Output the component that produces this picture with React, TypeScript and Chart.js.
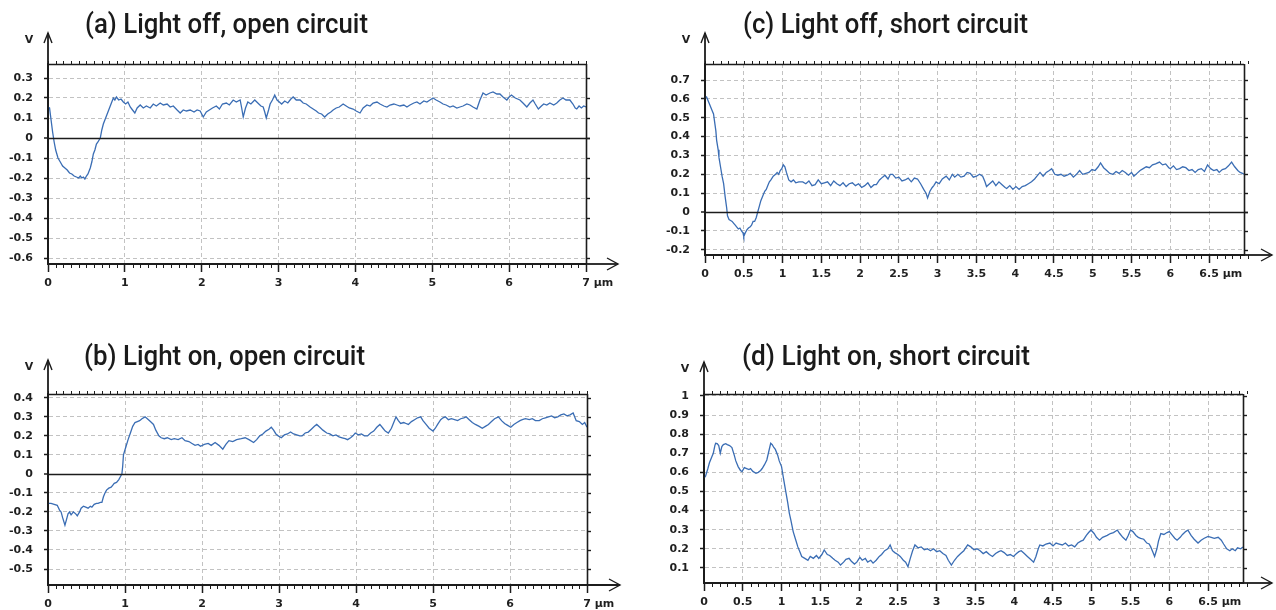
import React, { useEffect, useRef } from 'react';
import { Chart, registerables } from 'chart.js';

Chart.register(...registerables);

// ---------- Data ----------
// (a) Light off, open circuit
const aX = [0.00,0.02,0.04,0.06,0.08,0.10,0.13,0.16,0.19,0.22,0.25,0.28,0.31,0.34,0.37,0.40,0.42,0.44,0.46,0.48,0.50,0.52,0.55,0.57,0.59,0.61,0.63,0.65,0.68,0.70,0.72,0.74,0.76,0.79,0.82,0.85,0.87,0.89,0.92,0.95,0.98,1.01,1.04,1.07,1.10,1.13,1.16,1.20,1.24,1.28,1.33,1.37,1.41,1.46,1.50,1.55,1.59,1.63,1.68,1.72,1.76,1.80,1.85,1.90,1.94,1.98,2.02,2.06,2.10,2.14,2.19,2.23,2.27,2.32,2.36,2.41,2.45,2.50,2.52,2.54,2.57,2.60,2.64,2.69,2.73,2.77,2.80,2.82,2.84,2.87,2.89,2.92,2.95,2.98,3.01,3.04,3.08,3.12,3.16,3.19,3.23,3.28,3.32,3.36,3.41,3.45,3.49,3.52,3.56,3.60,3.64,3.68,3.71,3.75,3.79,3.84,3.88,3.92,3.97,4.01,4.06,4.10,4.15,4.19,4.23,4.28,4.32,4.37,4.41,4.45,4.50,4.54,4.58,4.63,4.67,4.71,4.76,4.80,4.84,4.89,4.93,4.97,5.01,5.05,5.10,5.14,5.18,5.23,5.27,5.32,5.36,5.40,5.45,5.49,5.53,5.58,5.62,5.66,5.70,5.75,5.79,5.84,5.88,5.92,5.97,6.00,6.03,6.08,6.14,6.18,6.23,6.27,6.31,6.34,6.38,6.42,6.45,6.49,6.53,6.58,6.62,6.66,6.70,6.74,6.79,6.83,6.86,6.88,6.91,6.94,6.97,7.00];
const aY = [0.155,0.15,0.09,0.03,-0.02,-0.06,-0.10,-0.12,-0.14,-0.15,-0.16,-0.175,-0.18,-0.19,-0.195,-0.20,-0.19,-0.20,-0.195,-0.205,-0.19,-0.18,-0.15,-0.12,-0.08,-0.06,-0.03,-0.02,0.0,0.04,0.07,0.09,0.11,0.14,0.17,0.20,0.19,0.205,0.19,0.195,0.18,0.17,0.18,0.155,0.14,0.125,0.15,0.165,0.15,0.16,0.15,0.17,0.16,0.175,0.165,0.17,0.155,0.16,0.14,0.125,0.14,0.135,0.14,0.13,0.14,0.135,0.105,0.13,0.14,0.15,0.16,0.145,0.17,0.175,0.165,0.19,0.18,0.19,0.15,0.105,0.15,0.18,0.17,0.19,0.175,0.16,0.155,0.13,0.10,0.14,0.17,0.19,0.215,0.19,0.18,0.17,0.185,0.175,0.195,0.205,0.19,0.19,0.175,0.17,0.155,0.145,0.135,0.125,0.12,0.105,0.12,0.13,0.14,0.15,0.155,0.17,0.16,0.15,0.145,0.135,0.125,0.15,0.165,0.16,0.175,0.18,0.17,0.16,0.155,0.165,0.17,0.165,0.16,0.165,0.155,0.165,0.175,0.18,0.17,0.185,0.18,0.19,0.20,0.19,0.18,0.17,0.165,0.155,0.16,0.15,0.155,0.16,0.17,0.165,0.155,0.145,0.19,0.225,0.215,0.225,0.23,0.22,0.22,0.205,0.19,0.205,0.215,0.20,0.19,0.175,0.155,0.175,0.19,0.17,0.145,0.16,0.17,0.165,0.175,0.165,0.175,0.19,0.20,0.19,0.19,0.17,0.15,0.145,0.16,0.15,0.16,0.155];
const aXTicks = [0, 1, 2, 3, 4, 5, 6, 7];
const aYTicks = [-0.6, -0.5, -0.4, -0.3, -0.2, -0.1, 0, 0.1, 0.2, 0.3];

// (b) Light on, open circuit
const bX = [0.00,0.04,0.08,0.12,0.15,0.17,0.19,0.22,0.24,0.26,0.28,0.30,0.33,0.36,0.38,0.41,0.43,0.46,0.49,0.52,0.55,0.57,0.60,0.63,0.65,0.68,0.70,0.72,0.74,0.76,0.79,0.82,0.84,0.86,0.89,0.92,0.94,0.96,0.97,0.98,1.01,1.04,1.07,1.10,1.13,1.16,1.19,1.22,1.26,1.29,1.33,1.37,1.40,1.44,1.47,1.51,1.55,1.60,1.64,1.69,1.74,1.78,1.83,1.87,1.91,1.95,1.98,2.03,2.08,2.12,2.17,2.22,2.27,2.31,2.35,2.40,2.45,2.51,2.56,2.61,2.67,2.71,2.75,2.79,2.83,2.87,2.90,2.93,2.96,2.99,3.03,3.07,3.11,3.15,3.19,3.23,3.27,3.30,3.34,3.38,3.42,3.46,3.49,3.53,3.57,3.62,3.66,3.70,3.74,3.78,3.82,3.86,3.89,3.93,3.96,3.99,4.03,4.07,4.11,4.15,4.19,4.23,4.27,4.31,4.35,4.38,4.42,4.46,4.49,4.52,4.55,4.58,4.62,4.65,4.68,4.72,4.76,4.80,4.84,4.87,4.91,4.95,5.00,5.03,5.06,5.10,5.13,5.16,5.20,5.24,5.28,5.32,5.36,5.40,5.43,5.47,5.51,5.55,5.60,5.64,5.68,5.72,5.76,5.80,5.85,5.89,5.93,5.97,6.01,6.05,6.09,6.13,6.16,6.20,6.25,6.29,6.33,6.38,6.42,6.46,6.50,6.54,6.58,6.62,6.66,6.70,6.74,6.78,6.82,6.86,6.90,6.94,6.97,7.00];
const bY = [-0.155,-0.155,-0.16,-0.165,-0.19,-0.20,-0.23,-0.27,-0.24,-0.21,-0.20,-0.215,-0.20,-0.21,-0.22,-0.20,-0.18,-0.17,-0.175,-0.18,-0.17,-0.175,-0.16,-0.155,-0.155,-0.15,-0.15,-0.12,-0.10,-0.085,-0.075,-0.07,-0.06,-0.05,-0.045,-0.03,-0.015,0.0,0.04,0.10,0.14,0.18,0.215,0.25,0.27,0.275,0.28,0.29,0.30,0.29,0.275,0.26,0.23,0.20,0.19,0.185,0.19,0.18,0.185,0.18,0.19,0.175,0.17,0.16,0.15,0.155,0.145,0.155,0.16,0.15,0.165,0.15,0.13,0.155,0.175,0.17,0.18,0.185,0.19,0.18,0.165,0.18,0.20,0.21,0.225,0.235,0.245,0.23,0.21,0.20,0.19,0.205,0.21,0.22,0.21,0.205,0.20,0.20,0.215,0.22,0.235,0.25,0.26,0.245,0.23,0.215,0.21,0.20,0.205,0.195,0.19,0.185,0.18,0.19,0.20,0.215,0.205,0.21,0.20,0.20,0.215,0.225,0.245,0.26,0.24,0.225,0.215,0.24,0.27,0.30,0.28,0.265,0.27,0.265,0.26,0.275,0.285,0.295,0.30,0.28,0.26,0.24,0.225,0.24,0.26,0.285,0.295,0.30,0.285,0.29,0.285,0.28,0.29,0.295,0.30,0.285,0.27,0.26,0.25,0.24,0.25,0.26,0.275,0.29,0.30,0.28,0.265,0.255,0.245,0.26,0.27,0.28,0.285,0.29,0.285,0.29,0.28,0.28,0.29,0.295,0.30,0.305,0.295,0.30,0.31,0.315,0.305,0.31,0.32,0.28,0.275,0.26,0.27,0.245];
const bXTicks = [0, 1, 2, 3, 4, 5, 6, 7];
const bYTicks = [-0.5, -0.4, -0.3, -0.2, -0.1, 0, 0.1, 0.2, 0.3, 0.4];

// (c) Light off, short circuit
const cX = [0.00,0.02,0.04,0.06,0.09,0.11,0.12,0.14,0.15,0.17,0.18,0.20,0.22,0.24,0.26,0.28,0.29,0.31,0.33,0.35,0.37,0.39,0.41,0.43,0.45,0.47,0.49,0.50,0.52,0.54,0.56,0.58,0.60,0.62,0.64,0.66,0.68,0.70,0.72,0.75,0.77,0.79,0.81,0.83,0.85,0.88,0.91,0.93,0.95,0.97,0.99,1.01,1.03,1.05,1.08,1.11,1.14,1.17,1.21,1.26,1.30,1.34,1.38,1.42,1.46,1.50,1.54,1.58,1.62,1.66,1.70,1.74,1.78,1.82,1.86,1.90,1.94,1.98,2.02,2.06,2.10,2.14,2.18,2.21,2.25,2.29,2.32,2.36,2.39,2.42,2.46,2.50,2.54,2.58,2.62,2.66,2.70,2.74,2.78,2.82,2.85,2.87,2.90,2.93,2.95,2.98,3.02,3.06,3.11,3.15,3.19,3.22,3.26,3.30,3.34,3.38,3.42,3.46,3.50,3.54,3.58,3.61,3.63,3.67,3.71,3.75,3.79,3.83,3.87,3.89,3.93,3.97,4.01,4.05,4.09,4.13,4.17,4.21,4.25,4.28,4.32,4.36,4.40,4.44,4.47,4.51,4.55,4.59,4.63,4.67,4.71,4.75,4.79,4.83,4.87,4.91,4.95,4.99,5.03,5.07,5.10,5.14,5.18,5.22,5.26,5.30,5.34,5.38,5.42,5.46,5.50,5.53,5.57,5.61,5.65,5.69,5.73,5.77,5.81,5.86,5.90,5.94,5.98,6.00,6.04,6.08,6.12,6.16,6.20,6.24,6.28,6.32,6.36,6.40,6.44,6.48,6.52,6.56,6.60,6.63,6.67,6.71,6.75,6.79,6.83,6.87,6.90,6.93,6.95];
const cY = [0.61,0.61,0.59,0.57,0.54,0.52,0.49,0.43,0.38,0.33,0.29,0.24,0.19,0.15,0.08,0.02,-0.02,-0.04,-0.045,-0.05,-0.06,-0.07,-0.08,-0.09,-0.085,-0.10,-0.11,-0.13,-0.11,-0.095,-0.085,-0.08,-0.07,-0.05,-0.05,-0.03,0.0,0.03,0.06,0.09,0.11,0.12,0.14,0.16,0.17,0.19,0.20,0.21,0.20,0.22,0.23,0.25,0.24,0.21,0.17,0.16,0.17,0.155,0.16,0.16,0.15,0.165,0.14,0.145,0.17,0.15,0.155,0.16,0.14,0.165,0.15,0.14,0.155,0.135,0.15,0.155,0.14,0.15,0.13,0.14,0.155,0.13,0.145,0.145,0.17,0.185,0.195,0.175,0.20,0.20,0.18,0.185,0.165,0.17,0.18,0.16,0.18,0.175,0.15,0.12,0.10,0.075,0.11,0.13,0.14,0.16,0.15,0.175,0.19,0.17,0.20,0.185,0.20,0.185,0.19,0.21,0.205,0.185,0.19,0.20,0.19,0.16,0.135,0.15,0.165,0.14,0.16,0.145,0.13,0.125,0.14,0.12,0.135,0.12,0.135,0.14,0.15,0.16,0.175,0.19,0.21,0.19,0.21,0.22,0.23,0.20,0.195,0.20,0.19,0.195,0.205,0.185,0.20,0.22,0.20,0.205,0.21,0.225,0.22,0.24,0.26,0.235,0.22,0.205,0.20,0.215,0.205,0.22,0.21,0.195,0.21,0.19,0.205,0.22,0.23,0.24,0.235,0.25,0.255,0.265,0.25,0.255,0.235,0.23,0.245,0.225,0.23,0.24,0.235,0.22,0.225,0.21,0.225,0.23,0.215,0.25,0.23,0.22,0.225,0.21,0.225,0.23,0.245,0.265,0.24,0.22,0.21,0.205,0.20];
const cXTicks = [0, 0.5, 1, 1.5, 2, 2.5, 3, 3.5, 4, 4.5, 5, 5.5, 6, 6.5];
const cYTicks = [-0.2, -0.1, 0, 0.1, 0.2, 0.3, 0.4, 0.5, 0.6, 0.7];

// (d) Light on, short circuit
const dX = [0.00,0.02,0.05,0.07,0.10,0.12,0.14,0.15,0.17,0.19,0.21,0.23,0.25,0.28,0.30,0.33,0.36,0.39,0.41,0.44,0.47,0.49,0.52,0.55,0.58,0.60,0.63,0.67,0.70,0.73,0.75,0.78,0.81,0.83,0.86,0.88,0.90,0.92,0.95,0.97,1.00,1.02,1.05,1.08,1.10,1.12,1.15,1.18,1.21,1.24,1.26,1.30,1.34,1.37,1.41,1.45,1.48,1.52,1.55,1.59,1.62,1.66,1.69,1.73,1.76,1.80,1.83,1.87,1.90,1.94,1.97,2.01,2.04,2.08,2.11,2.15,2.18,2.22,2.26,2.29,2.33,2.37,2.40,2.43,2.46,2.50,2.53,2.57,2.60,2.63,2.66,2.69,2.72,2.76,2.80,2.84,2.88,2.92,2.96,3.00,3.04,3.08,3.12,3.15,3.19,3.23,3.27,3.31,3.35,3.40,3.44,3.48,3.52,3.56,3.60,3.64,3.68,3.72,3.76,3.80,3.83,3.87,3.91,3.95,3.99,4.03,4.06,4.09,4.13,4.17,4.21,4.25,4.28,4.31,4.33,4.37,4.41,4.46,4.50,4.54,4.58,4.62,4.66,4.70,4.74,4.78,4.82,4.86,4.89,4.93,4.96,4.99,5.03,5.06,5.10,5.14,5.17,5.20,5.24,5.28,5.33,5.36,5.40,5.44,5.47,5.50,5.53,5.57,5.60,5.63,5.67,5.71,5.74,5.76,5.79,5.81,5.84,5.86,5.89,5.93,5.97,6.00,6.04,6.07,6.10,6.14,6.17,6.21,6.24,6.28,6.32,6.37,6.41,6.45,6.50,6.54,6.58,6.63,6.67,6.70,6.74,6.78,6.81,6.85,6.88,6.92,6.95];
const dY = [0.57,0.58,0.62,0.65,0.68,0.70,0.74,0.752,0.75,0.74,0.70,0.735,0.745,0.75,0.745,0.74,0.73,0.69,0.66,0.63,0.61,0.604,0.625,0.62,0.615,0.62,0.605,0.595,0.60,0.61,0.62,0.64,0.665,0.70,0.752,0.745,0.73,0.72,0.69,0.66,0.63,0.58,0.51,0.44,0.387,0.35,0.29,0.25,0.21,0.18,0.16,0.15,0.14,0.16,0.15,0.165,0.15,0.17,0.194,0.17,0.165,0.15,0.14,0.13,0.115,0.13,0.145,0.15,0.135,0.12,0.13,0.155,0.14,0.15,0.13,0.14,0.125,0.14,0.16,0.17,0.19,0.20,0.22,0.19,0.18,0.17,0.16,0.14,0.13,0.106,0.15,0.19,0.22,0.205,0.21,0.195,0.20,0.19,0.20,0.185,0.19,0.175,0.165,0.14,0.115,0.14,0.16,0.175,0.19,0.22,0.21,0.195,0.20,0.19,0.175,0.185,0.17,0.16,0.175,0.185,0.19,0.18,0.165,0.17,0.16,0.175,0.185,0.19,0.175,0.16,0.145,0.13,0.16,0.20,0.22,0.215,0.225,0.23,0.215,0.23,0.225,0.22,0.23,0.215,0.22,0.21,0.23,0.24,0.245,0.27,0.285,0.298,0.28,0.26,0.245,0.26,0.265,0.27,0.28,0.285,0.298,0.28,0.26,0.245,0.27,0.298,0.29,0.27,0.26,0.255,0.25,0.23,0.225,0.21,0.18,0.16,0.20,0.24,0.28,0.275,0.285,0.29,0.27,0.255,0.245,0.26,0.275,0.29,0.298,0.27,0.25,0.23,0.245,0.255,0.265,0.26,0.255,0.26,0.245,0.225,0.20,0.19,0.20,0.19,0.205,0.20,0.21];
const dXTicks = [0, 0.5, 1, 1.5, 2, 2.5, 3, 3.5, 4, 4.5, 5, 5.5, 6, 6.5];
const dYTicks = [0.1, 0.2, 0.3, 0.4, 0.5, 0.6, 0.7, 0.8, 0.9, 1];

const titles = [
  '(a) Light off, open circuit',
  '(b) Light on, open circuit',
  '(c) Light off, short circuit',
  '(d) Light on, short circuit',
];
const unitX = 'µm';
const unitY = 'V';

// ---------- Styles ----------
const GRID = '#c2c2c2';
const AXIS = '#1c1c1c';
const LABEL = '#1f1f1f';
const LINE = '#3a6db4';
const TICK_FONT = { family: '"DejaVu Sans", Verdana, sans-serif', size: 11, weight: 'bold' as const };
const TITLE_FONT = '500 27px Roboto, "Liberation Sans", Arial, sans-serif';

const fmt = (v: number) => String(Math.round(v * 100) / 100);

type PanelCfg = {
  key: string;
  title: string;
  xs: number[];
  ys: number[];
  xTicks: number[];
  yTicks: number[];
  xMax: number;
  yMin: number;
  yMax: number;
  left: number;
  top: number;
  w: number;
  h: number;
  area: { l: number; t: number; r: number; b: number };
  tipY: number;
  arrowX: number;
  titleX: number;
  titleBase: number;
  titleW: number;
};

const panels: PanelCfg[] = [
  { key: 'a', title: titles[0], xs: aX, ys: aY, xTicks: aXTicks, yTicks: aYTicks, xMax: 7, yMin: -0.63, yMax: 0.37,
    left: 0, top: 0, w: 638, h: 300, area: { l: 48, t: 64, r: 586, b: 264 }, tipY: 33, arrowX: 618,
    titleX: 85, titleBase: 33, titleW: 283 },
  { key: 'b', title: titles[1], xs: bX, ys: bY, xTicks: bXTicks, yTicks: bYTicks, xMax: 7, yMin: -0.584, yMax: 0.42,
    left: 0, top: 300, w: 638, h: 310, area: { l: 48, t: 94, r: 587, b: 285 }, tipY: 60, arrowX: 620,
    titleX: 84, titleBase: 65, titleW: 281 },
  { key: 'c', title: titles[2], xs: cX, ys: cY, xTicks: cXTicks, yTicks: cYTicks, xMax: 6.95, yMin: -0.228, yMax: 0.785,
    left: 638, top: 0, w: 638, h: 300, area: { l: 67, t: 64, r: 606, b: 255 }, tipY: 33, arrowX: 634,
    titleX: 105, titleBase: 33, titleW: 285 },
  { key: 'd', title: titles[3], xs: dX, ys: dY, xTicks: dXTicks, yTicks: dYTicks, xMax: 6.95, yMin: 0.021, yMax: 1.01,
    left: 638, top: 300, w: 638, h: 310, area: { l: 66, t: 94, r: 605, b: 283 }, tipY: 62, arrowX: 634,
    titleX: 104, titleBase: 65, titleW: 288 },
];

function decorPlugin(p: PanelCfg) {
  return {
    id: 'decor_' + p.key,
    afterDraw(chart: any) {
      const { ctx, chartArea } = chart;
      const { left, right, top, bottom } = chartArea;
      const x = chart.scales.x;
      const y = chart.scales.y;
      const seg = (x1: number, y1: number, x2: number, y2: number, w: number) => {
        ctx.beginPath();
        ctx.lineWidth = w;
        ctx.moveTo(x1, y1);
        ctx.lineTo(x2, y2);
        ctx.stroke();
      };
      ctx.save();
      ctx.strokeStyle = AXIS;
      ctx.setLineDash([]);
      // zero line
      if (y.min < 0 && y.max > 0) {
        const zy = Math.round(y.getPixelForValue(0)) + 0.5;
        seg(left, zy, right + 4, zy, 1.6);
      }
      // frame top and right
      seg(left, top + 0.5, right, top + 0.5, 1.6);
      seg(right + 0.5, top, right + 0.5, bottom, 1.6);
      // y axis extension & arrow
      seg(left, bottom, left, p.tipY, 1.8);
      ctx.beginPath();
      ctx.lineWidth = 1.4;
      ctx.moveTo(left - 4, p.tipY + 10);
      ctx.lineTo(left, p.tipY);
      ctx.lineTo(left + 4, p.tipY + 10);
      ctx.stroke();
      // x axis extension & arrow
      seg(right, bottom, p.arrowX, bottom, 1.8);
      ctx.beginPath();
      ctx.lineWidth = 1.4;
      ctx.moveTo(p.arrowX - 11, bottom - 6);
      ctx.lineTo(p.arrowX, bottom);
      ctx.lineTo(p.arrowX - 11, bottom + 6);
      ctx.stroke();
      // minor ticks on top and bottom
      const n = Math.round(p.xMax * 10);
      for (let i = 0; i <= n; i++) {
        const v = i / 10;
        const px = Math.round(x.getPixelForValue(v)) + 0.5;
        seg(px, top, px, top - 3, 1);
        const isMajor = p.xTicks.some((t) => Math.abs(t - v) < 1e-6);
        if (!isMajor) seg(px, bottom, px, bottom + 4, 1);
      }
      // right side ticks
      y.ticks.forEach((t: any) => {
        const py = Math.round(y.getPixelForValue(t.value)) + 0.5;
        seg(right, py, right + 4, py, 1.4);
      });
      // unit on x axis after last label
      ctx.fillStyle = LABEL;
      ctx.font = `bold ${TICK_FONT.size}px ${TICK_FONT.family}`;
      const items = x.getLabelItems ? x.getLabelItems() : [];
      const last = p.xTicks[p.xTicks.length - 1];
      const lp = x.getPixelForValue(last);
      const lw = ctx.measureText(fmt(last)).width;
      let ly = bottom + 17;
      let base = 'middle';
      if (items.length) {
        const it = items[items.length - 1];
        ly = it.options.translation[1] + (it.textOffset || 0);
        base = it.options.textBaseline || 'middle';
      }
      ctx.textAlign = 'left';
      ctx.textBaseline = base;
      ctx.fillText(' ' + unitX, lp + lw / 2, ly);
      // y unit
      ctx.textAlign = 'center';
      ctx.textBaseline = 'middle';
      ctx.fillText(unitY, left - 19, p.tipY + 7);
      // title
      ctx.font = TITLE_FONT;
      ctx.fillStyle = '#1a1a1a';
      ctx.textAlign = 'left';
      ctx.textBaseline = 'alphabetic';
      const tw = ctx.measureText(p.title).width;
      const sx = tw > 0 ? p.titleW / tw : 1;
      ctx.translate(p.titleX, p.titleBase);
      ctx.scale(sx, 1);
      ctx.fillText(p.title, 0, 0);
      ctx.restore();
    },
  };
}

function Panel({ p }: { p: PanelCfg }) {
  const ref = useRef<HTMLCanvasElement | null>(null);
  useEffect(() => {
    if (!ref.current) return;
    const points = p.xs.map((xv, i) => ({ x: xv, y: p.ys[i] }));
    const chart = new Chart(ref.current, {
      type: 'line',
      data: {
        datasets: [
          {
            data: points,
            borderColor: LINE,
            borderWidth: 1.3,
            pointRadius: 0,
            tension: 0,
            fill: false,
          },
        ],
      },
      options: {
        responsive: false,
        animation: false,
        devicePixelRatio: 1,
        layout: { padding: { left: 0, top: p.area.t, right: p.w - p.area.r, bottom: 0 } },
        plugins: { legend: { display: false }, tooltip: { enabled: false }, title: { display: false } },
        scales: {
          x: {
            type: 'linear',
            min: 0,
            max: p.xMax,
            afterBuildTicks: (s: any) => {
              s.ticks = p.xTicks.map((v) => ({ value: v }));
            },
            afterFit: (s: any) => {
              s.height = p.h - p.area.b;
            },
            grid: {
              color: GRID,
              lineWidth: 1,
              drawTicks: true,
              tickLength: 8,
              tickColor: AXIS,
              tickWidth: 1.5,
              tickBorderDash: [],
            },
            border: { display: true, color: AXIS, width: 2, dash: [4, 3] },
            ticks: {
              padding: 5,
              color: LABEL,
              font: TICK_FONT,
              maxRotation: 0,
              autoSkip: false,
              callback: (v: any) => fmt(Number(v)),
            },
          },
          y: {
            type: 'linear',
            min: p.yMin,
            max: p.yMax,
            afterBuildTicks: (s: any) => {
              s.ticks = p.yTicks.map((v) => ({ value: v }));
            },
            afterFit: (s: any) => {
              s.width = p.area.l;
            },
            grid: {
              color: GRID,
              lineWidth: (c: any) => (c.tick && Math.abs(c.tick.value) < 1e-9 ? 0 : 1),
              drawTicks: true,
              tickLength: 4,
              tickColor: AXIS,
              tickWidth: 1.5,
              tickBorderDash: [],
            },
            border: { display: true, color: AXIS, width: 2, dash: [4, 3] },
            ticks: {
              padding: 11,
              color: LABEL,
              font: TICK_FONT,
              autoSkip: false,
              callback: (v: any) => fmt(Number(v)),
            },
          },
        },
      } as any,
      plugins: [decorPlugin(p)],
    });
    return () => chart.destroy();
  }, [p]);
  return (
    <canvas
      ref={ref}
      width={p.w}
      height={p.h}
      style={{ position: 'absolute', left: p.left, top: p.top, width: p.w, height: p.h, display: 'block' }}
    />
  );
}

export default function App() {
  return (
    <div style={{ position: 'absolute', left: 0, top: 0, width: 1276, height: 610, background: '#fff', overflow: 'hidden' }}>
      {panels.map((p) => (
        <Panel key={p.key} p={p} />
      ))}
    </div>
  );
}
